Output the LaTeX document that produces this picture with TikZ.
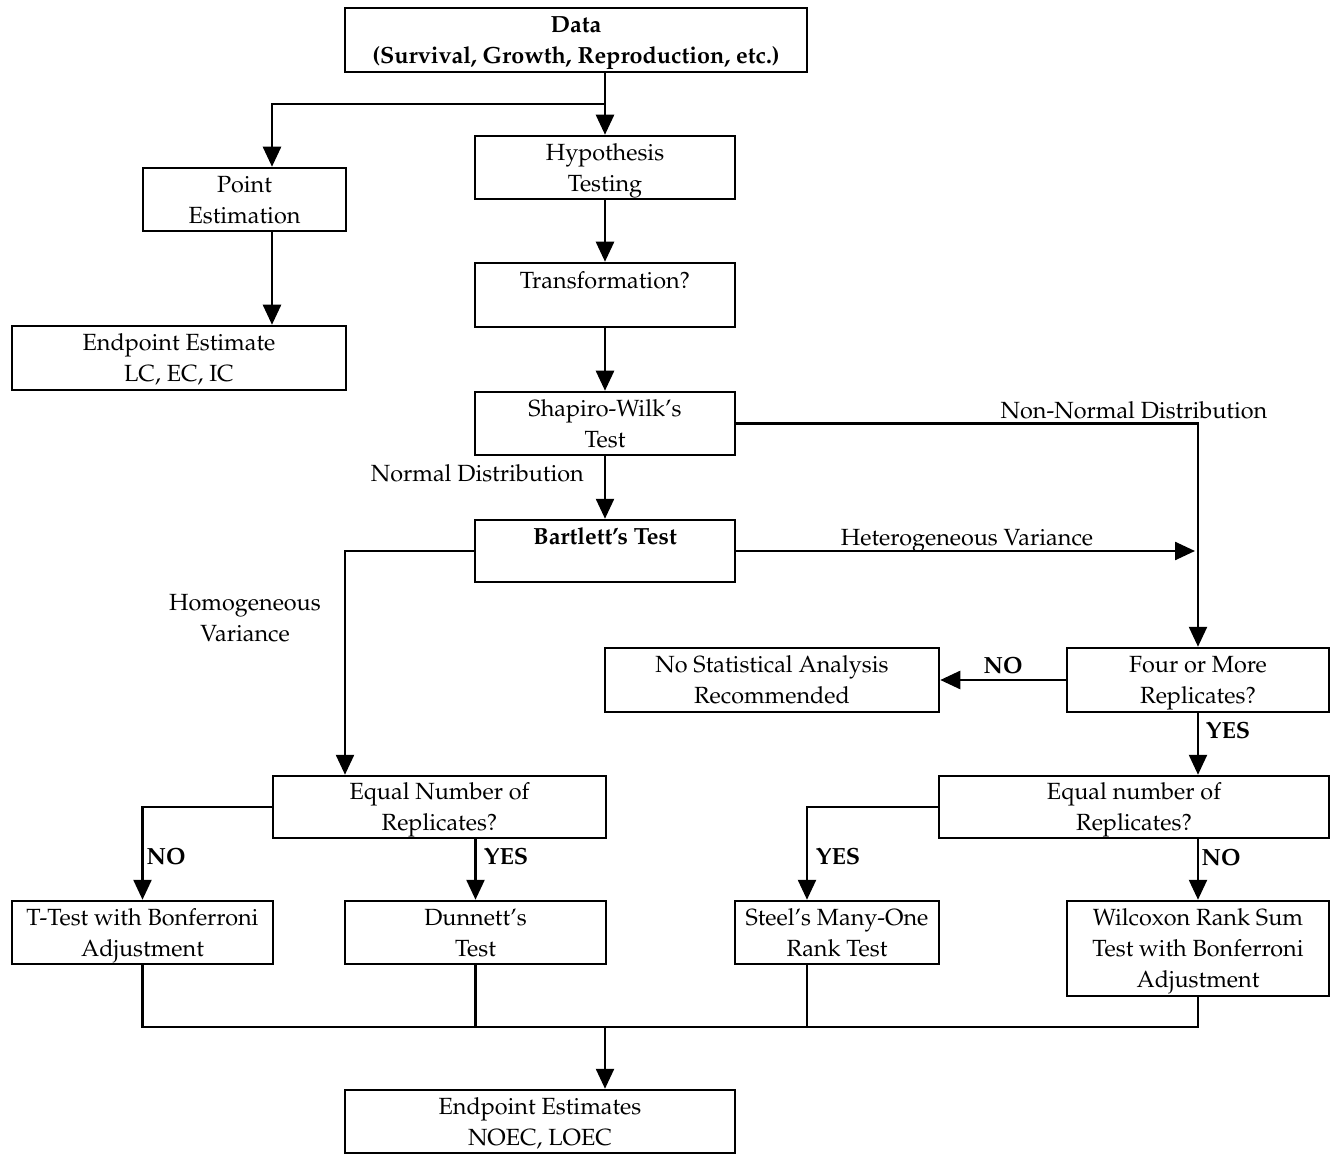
\documentclass[tikz,border=0pt]{standalone}
\usepackage[T1]{fontenc}
\usepackage{mathpazo}
\usepackage{tikz}
\usetikzlibrary{arrows.meta}

\tikzset{
  box/.style={draw, line width=2.5pt, rectangle, inner sep=0pt, align=center,
    text depth=-2pt, font=\fontsize{23.4}{31}\selectfont},
  oneline/.style={text depth=30pt},
  lbl/.style={inner sep=0pt, align=center, font=\fontsize{23.4}{31}\selectfont},
  arr/.style={line width=2.5pt, -{Triangle[length=20pt,width=18pt]}},
  ln/.style={line width=2.5pt}
}

\begin{document}
\begin{tikzpicture}[x=1pt,y=-1pt]
\useasboundingbox (0,0) rectangle (1331,1155);

%Shape: Rectangle
\node[box, minimum width=462, minimum height=64] (data) at (576,40) {\textbf{Data}\\\textbf{(Survival, Growth, Reproduction, etc.)}};
\node[box, minimum width=260, minimum height=63] (hyp) at (605,167.5) {Hypothesis\\Testing};
\node[box, minimum width=203, minimum height=63] (point) at (244.5,199.5) {Point\\Estimation};
\node[box, minimum width=334, minimum height=64] (endest) at (179,358) {Endpoint Estimate\\LC, EC, IC};
\node[box, oneline, minimum width=260, minimum height=64] (trans) at (605,295) {Transformation?};
\node[box, minimum width=260, minimum height=63] (shap) at (605,423.5) {Shapiro-Wilk's\\Test};
\node[box, oneline, minimum width=260, minimum height=62] (bart) at (605,551) {\textbf{Bartlett's Test}};
\node[box, minimum width=262, minimum height=64] (four) at (1198,680) {Four or More\\Replicates?};
\node[box, minimum width=334, minimum height=64] (nostat) at (772,680) {No Statistical Analysis\\Recommended};
\node[box, minimum width=333, minimum height=62] (eqL) at (439.5,807) {Equal Number of\\Replicates?};
\node[box, minimum width=390, minimum height=62] (eqR) at (1134,807) {Equal number of\\Replicates?};
\node[box, minimum width=261, minimum height=63] (ttest) at (142.5,932.5) {T-Test with Bonferroni\\Adjustment};
\node[box, minimum width=261, minimum height=63] (dunn) at (475.5,932.5) {Dunnett's\\Test};
\node[box, minimum width=204, minimum height=63] (steel) at (837,932.5) {Steel's Many-One\\Rank Test};
\node[box, minimum width=262, minimum height=95] (wilc) at (1198,948.5) {Wilcoxon Rank Sum\\Test with Bonferroni\\Adjustment};
\node[box, minimum width=390, minimum height=63] (endpts) at (540,1121.5) {Endpoint Estimates\\NOEC, LOEC};

%Columns and junctions
\coordinate (split) at (605,104);
\coordinate (ptcol) at (272,0);
\coordinate (hocol) at (345,0);
\coordinate (stcol) at (807,0);
\coordinate (merge) at (605,1027);

%Straight Lines
\draw[ln] (data.south -| hyp.north) -- (split);
\draw[arr] (split) -- (hyp.north);
\draw[arr] (split) -| (ptcol |- point.north);
\draw[arr] (ptcol |- point.south) -- (ptcol |- endest.north);
\draw[arr] (hyp) -- (trans);
\draw[arr] (trans) -- (shap);
\draw[arr] (shap) -- (bart);
\draw[arr] (shap.east) -| (four.north);
\draw[arr, shorten >=3pt] (bart.east) -- (bart.east -| four);
\draw[arr] (bart.west) -| (hocol |- eqL.north);
\draw[arr] (four.west) -- (nostat.east);
\draw[arr] (four.south) -- (four.south |- eqR.north);
\draw[arr] (eqL.west) -| (ttest.north);
\draw[arr] (eqL.south -| dunn.north) -- (dunn.north);
\draw[arr] (eqR.west) -| (stcol |- steel.north);
\draw[arr] (eqR.south -| wilc.north) -- (wilc.north);
\draw[ln] (ttest.south) -- (ttest.south |- merge) -- (wilc.south |- merge) -- (wilc.south);
\draw[ln] (dunn.south) -- (dunn.south |- merge);
\draw[ln] (stcol |- steel.south) -- (stcol |- merge);
\draw[arr] (merge) -- (merge |- endpts.north);

% Text Node
\node[lbl, anchor=east] (normal) at (584,473) {Normal Distribution};
\node[lbl] (nonnormal) at (1134,410) {Non-Normal Distribution};
\node[lbl] (hetero) at (967,541) {Heterogeneous Variance};
\node[lbl] (homo) at (245,618) {Homogeneous\\Variance};
\node[lbl] (noA) at (1003,665) {\textbf{NO}};
\node[lbl] (yesA) at (1228,730) {\textbf{YES}};
\node[lbl] (noB) at (166,856) {\textbf{NO}};
\node[lbl] (yesB) at (506,856) {\textbf{YES}};
\node[lbl] (yesC) at (838,856) {\textbf{YES}};
\node[lbl] (noC) at (1221,857) {\textbf{NO}};

\end{tikzpicture}
\end{document}
